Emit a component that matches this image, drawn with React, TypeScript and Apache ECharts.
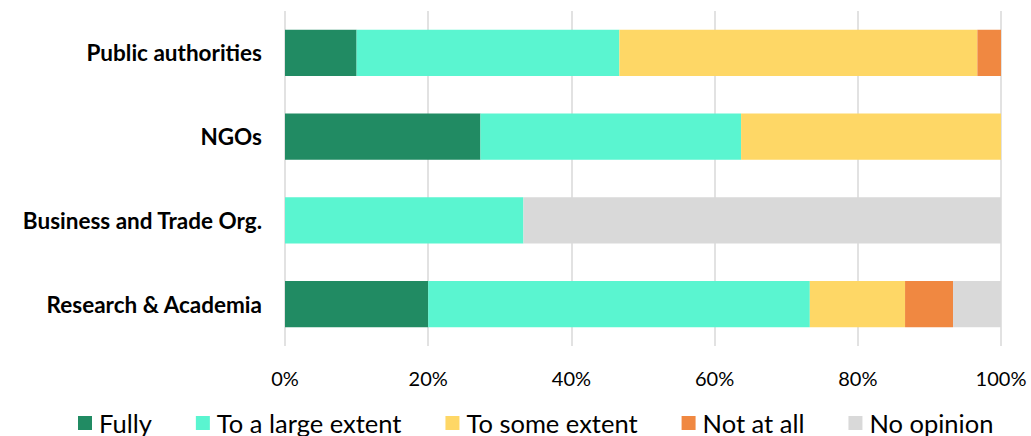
import React, { useEffect, useRef } from "react";
import * as echarts from "echarts";

// Share of respondents (%) per stakeholder group
const categories = [
  "Public authorities",
  "NGOs",
  "Business and Trade Org.",
  "Research & Academia",
];
const fully = [10.0, 27.3, 0, 20.0];
const largeExtent = [36.7, 36.4, 33.3, 53.3];
const someExtent = [50.0, 36.3, 0, 13.3];
const notAtAll = [3.3, 0, 0, 6.7];
const noOpinion = [0, 0, 66.7, 6.7];
const xTicks = [0, 20, 40, 60, 80, 100];

const seriesDefs = [
  { name: "Fully", data: fully, color: "#218B63" },
  { name: "To a large extent", data: largeExtent, color: "#5AF5D0" },
  { name: "To some extent", data: someExtent, color: "#FED766" },
  { name: "Not at all", data: notAtAll, color: "#F08841" },
  { name: "No opinion", data: noOpinion, color: "#D9D9D9" },
];

const FONT = "Lato, 'Open Sans', sans-serif";

export default function App() {
  const ref = useRef<HTMLDivElement>(null);

  useEffect(() => {
    if (!ref.current) return;
    const chart = echarts.init(ref.current, null, { renderer: "svg" });
    chart.setOption({
      animation: false,
      backgroundColor: "#ffffff",
      textStyle: { fontFamily: FONT },
      grid: { left: 285, right: 30, top: 11, bottom: 90 },
      legend: {
        left: 78,
        top: 410,
        padding: 0,
        itemWidth: 14,
        itemHeight: 14,
        itemGap: 44,
        icon: "rect",
        textStyle: {
          fontSize: 25.5,
          color: "#000000",
          fontFamily: FONT,
          padding: [0, 0, 0, 2],
        },
        data: seriesDefs.map((s) => s.name),
      },
      xAxis: {
        type: "value",
        min: xTicks[0],
        max: xTicks[xTicks.length - 1],
        interval: 20,
        axisLine: { show: false },
        axisTick: { show: false },
        splitLine: { show: true, lineStyle: { color: "#D9D9D9", width: 1.5 } },
        axisLabel: {
          margin: 22,
          fontSize: 20,
          color: "#000000",
          fontFamily: FONT,
          formatter: (v: number) => `${v}%`,
        },
      },
      yAxis: {
        type: "category",
        inverse: true,
        data: categories,
        axisLine: { show: false },
        axisTick: { show: false },
        axisLabel: {
          margin: 23,
          fontSize: 22.5,
          fontWeight: "bold",
          color: "#000000",
          fontFamily: FONT,
        },
      },
      series: seriesDefs.map((s) => ({
        name: s.name,
        type: "bar",
        stack: "total",
        barCategoryGap: "45%",
        data: s.data,
        itemStyle: { color: s.color },
      })),
    });
    return () => chart.dispose();
  }, []);

  return (
    <div
      ref={ref}
      style={{ position: "fixed", left: 0, top: 0, width: 1031, height: 436 }}
    />
  );
}
